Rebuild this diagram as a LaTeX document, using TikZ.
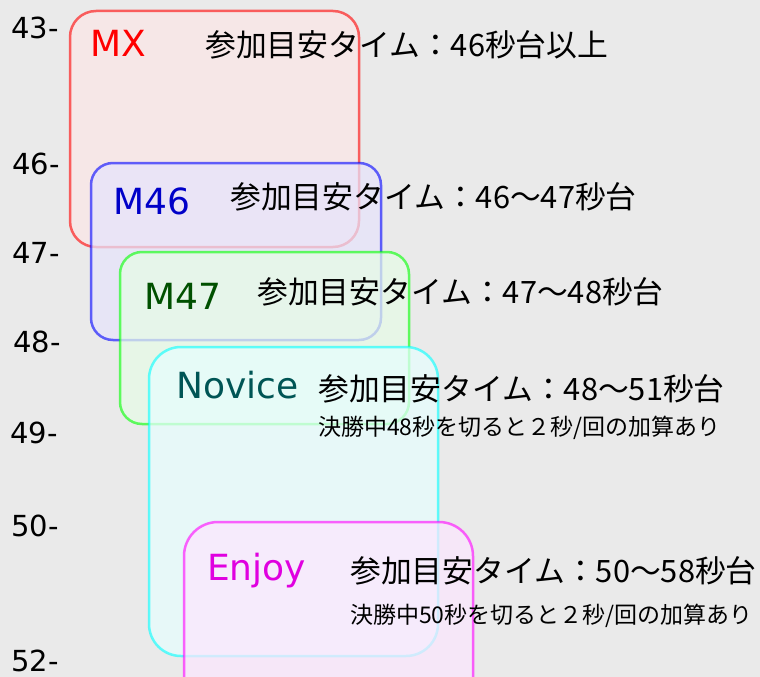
\documentclass[tikz,border=0pt]{standalone}
\usepackage{fontspec}
\setmainfont{DejaVu Sans}
\newfontfamily\jp{Noto Sans CJK JP}
\definecolor{bg}{RGB}{234,234,234}
\definecolor{cred}{RGB}{255,0,0}
\definecolor{cblue}{RGB}{0,0,255}
\definecolor{cgreen}{RGB}{0,255,0}
\definecolor{ccyan}{RGB}{0,255,255}
\definecolor{cmag}{RGB}{255,0,255}
\definecolor{fmx}{RGB}{252,230,230}
\definecolor{fmf}{RGB}{230,228,252}
\definecolor{fms}{RGB}{230,252,230}
\definecolor{fnv}{RGB}{230,254,254}
\definecolor{fej}{RGB}{252,230,254}
\definecolor{tmf}{RGB}{0,0,200}
\definecolor{tms}{RGB}{0,80,0}
\definecolor{tnv}{RGB}{0,85,85}
\definecolor{tej}{RGB}{224,0,224}
\begin{document}
\begin{tikzpicture}[x=1pt,y=-1pt,
  box/.style={line width=2.5pt, rounded corners=#1, draw opacity=0.6, fill opacity=0.72},
  axis/.style={anchor=base west, inner sep=0pt, font=\fontsize{29}{34}\selectfont},
  cls/.style={anchor=base west, inner sep=0pt, font=\fontsize{36}{41}\selectfont},
  big/.style={anchor=base west, inner sep=0pt, font=\jp\fontsize{30.8}{37}\selectfont},
  small/.style={anchor=base west, inner sep=0pt, font=\jp\fontsize{23}{28}\selectfont}]
\fill[bg] (0,0) rectangle (760,677);
\useasboundingbox (0,0) rectangle (760,677);
\clip (0,0) rectangle (760,677);
% boxes
\draw[box=26, draw=cred, fill=fmx] (70,11) rectangle (359,247);
\draw[box=22, draw=cblue, fill=fmf] (91,163) rectangle (381,340);
\draw[box=22, draw=cgreen, fill=fms] (120,252) rectangle (409,424);
\draw[box=32, draw=ccyan, fill=fnv] (149,347) rectangle (438,656);
\draw[box=34, draw=cmag, fill=fej] (184,522) rectangle (473,720);
% axis labels
\node[axis] (a43) at (11,39) {43-};
\node[axis] (a46) at (12,174) {46-};
\node[axis] (a47) at (12,263) {47-};
\node[axis] (a48) at (13,352) {48-};
\node[axis] (a49) at (10,443) {49-};
\node[axis] (a50) at (11,536) {50-};
\node[axis] (a52) at (11,671) {52-};
% class labels
\node[cls, text=cred] (lmx) at (90,57) {MX};
\node[cls, text=tmf] (lmf) at (113,214) {M46};
\node[cls, text=tms] (lms) at (144,309) {M47};
\node[cls, text=tnv] (lnv) at (176,398) {Novice};
\node[cls, text=tej] (lej) at (207,580) {Enjoy};
% descriptions
\node[big] (dmx) at (205,57) {参加目安タイム：46秒台以上};
\node[big] (dmf) at (230,208) {参加目安タイム：46～47秒台};
\node[big] (dms) at (257,303) {参加目安タイム：47～48秒台};
\node[big] (dnv) at (318,400) {参加目安タイム：48～51秒台};
\node[small] (snv) at (318,435) {決勝中48秒を切ると２秒/回の加算あり};
\node[big] (dej) at (350,582) {参加目安タイム：50～58秒台};
\node[small] (sej) at (350,623) {決勝中50秒を切ると２秒/回の加算あり};
\end{tikzpicture}
\end{document}
